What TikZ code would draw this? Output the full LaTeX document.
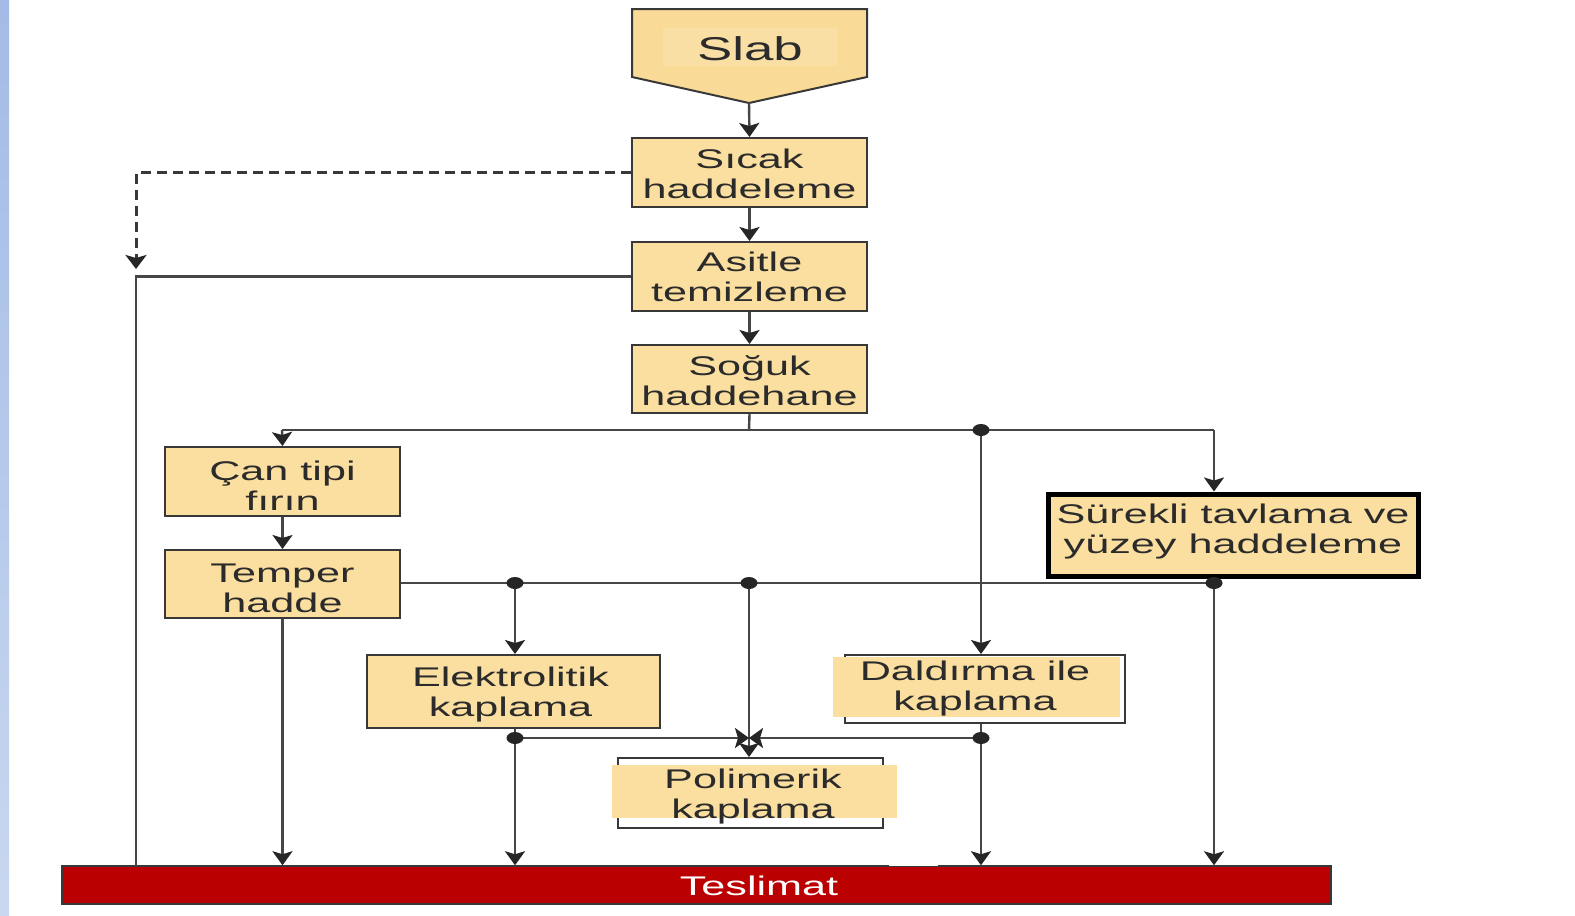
\documentclass[tikz,border=0pt]{standalone}
\usepackage{fontspec}
\setmainfont{Liberation Sans}
\newfontfamily\boxfont[FakeStretch=1.6]{Liberation Sans}
\usetikzlibrary{arrows.meta}
\definecolor{boxfill}{HTML}{FBDFA0}
\definecolor{slabfill}{HTML}{F9DA96}
\definecolor{slabin}{HTML}{FADFA4}
\definecolor{edge}{HTML}{383838}
\definecolor{wire}{HTML}{464646}
\definecolor{tipcol}{HTML}{262626}
\definecolor{txt}{HTML}{2B2B2B}
\definecolor{tesred}{HTML}{BA0000}
\definecolor{bluetop}{HTML}{A3BBE6}
\definecolor{bluebot}{HTML}{C9D7F0}
\tikzset{
  pbox/.style={draw=edge, fill=boxfill, line width=2pt, inner sep=0pt},
  plain/.style={inner sep=0pt, align=center, text=txt, font=\boxfont\fontsize{27pt}{30pt}\selectfont},
  wireline/.style={draw=wire, line width=2.4pt},
  arr/.style={wireline, -{Stealth[length=14pt,width=20pt,inset=3pt,color=tipcol]}},
  darr/.style={draw=edge, line width=3pt, dash pattern=on 10pt off 6pt, -{Stealth[length=14pt,width=21pt,inset=3pt,color=tipcol]}},
  jdot/.style={fill=black!85, draw=none}
}
\begin{document}
\begin{tikzpicture}[x=1pt,y=-1pt]
\useasboundingbox (0,0) rectangle (1575,916);
\fill[white] (0,0) rectangle (1575,916);
\shade[top color=bluetop, bottom color=bluebot] (0,0) rectangle (9,916);

% Slab
\draw[draw=edge, fill=slabfill, line width=2pt] (632,9) -- (867,9) -- (867,77) -- (749,103) -- (632,77) -- cycle;
\fill[slabin] (663,28) rectangle (838,66);
\node[inner sep=0pt, text=txt, font=\boxfont\fontsize{33pt}{36pt}\selectfont] (slab) at (750,49) {Slab};
\coordinate (slabtip) at (749,103);

% Boxes
\node[pbox, minimum width=235pt, minimum height=69pt] (sic) at (749.5,172.5) {};
\node[plain] (sictxt) at ([yshift=-1pt]sic.center) {Sıcak\\haddeleme};
\node[pbox, minimum width=235pt, minimum height=69pt] (asi) at (749.5,276.5) {};
\node[plain] (asitxt) at (asi.center) {Asitle\\temizleme};
\node[pbox, minimum width=235pt, minimum height=68pt] (sog) at (749.5,379) {};
\node[plain] (sogtxt) at ([yshift=-2pt]sog.center) {Soğuk\\haddehane};
\node[pbox, minimum width=235pt, minimum height=69pt] (can) at (282.5,481.5) {};
\node[plain] (cantxt) at ([yshift=-4pt]can.center) {Çan tipi\\fırın};
\node[pbox, minimum width=235pt, minimum height=68pt] (tem) at (282.5,584) {};
\node[plain] (temtxt) at ([yshift=-4pt]tem.center) {Temper\\hadde};
\node[pbox, draw=black, line width=5pt, minimum width=370pt, minimum height=82pt] (sur) at (1233,535) {};
\node[plain] (surtxt) at ([yshift=3pt]sur.center) {Sürekli tavlama ve\\yüzey haddeleme};
\node[pbox, minimum width=293pt, minimum height=73pt] (ele) at (513.5,691.5) {};
\node[plain] (eletxt) at ([xshift=-3pt,yshift=-3pt]ele.center) {Elektrolitik\\kaplama};

% Daldirma (offset fill)
\node[draw=edge, line width=2pt, inner sep=0pt, minimum width=280pt, minimum height=68pt] (dal) at (985,689) {};
\fill[boxfill] (833,657) rectangle (1120,717);
\node[plain] (daltxt) at (975,689) {Daldırma ile\\kaplama};

% Polimerik (offset fill)
\node[draw=edge, line width=2pt, inner sep=0pt, minimum width=265pt, minimum height=70pt] (pol) at (750.5,793) {};
\fill[boxfill] (612,765) rectangle (897,818);
\node[plain] (poltxt) at (753,797) {Polimerik\\kaplama};

% Teslimat
\node[draw=edge, fill=tesred, line width=1.5pt, inner sep=0pt, minimum width=1269pt, minimum height=38pt] (tes) at (696.5,885) {};
\fill[white] (889,860) rectangle (938,866);
\node[inner sep=0pt, text=white, font=\boxfont\fontsize{27pt}{30pt}\selectfont] (testxt) at (759,886) {Teslimat};

% Coordinates
\coordinate (sogb) at (749,430);
\coordinate (jl) at (282,430);
\coordinate (jd) at (981,430);
\coordinate (jr) at (1214,430);
\coordinate (t515) at (515,583);
\coordinate (t749) at (749,583);
\coordinate (t1214) at (1214,583);
\coordinate (e738) at (515,738);
\coordinate (d738) at (981,738);
\coordinate (m738l) at (749,738);
\coordinate (dashend) at (136,269);
\coordinate (leftbot) at (136,866);

% main chain
\draw[arr] (slabtip) -- (sic.north);
\draw[arr] (sic.south) -- (asi.north);
\draw[arr] (asi.south) -- (sog.north);

% dashed bypass
\draw[darr] (sic.west) -| (dashend);
\draw[wireline] (asi.west) -| (leftbot);

% from Soguk
\draw[wireline] (sog.south) -- (sogb);
\draw[wireline] (jl) -- (jr);
\draw[arr] (jl) -- (can.north);
\draw[arr] (jd) -- (jd |- dal.north);
\draw[arr] (jr) -- (jr |- sur.north);
\fill[jdot] (jd) ellipse (8.5pt and 6pt);

% Can -> Temper
\draw[arr] (can.south) -- (tem.north);

% Temper line
\draw[wireline] (tem.east |- t1214) -- (t1214);
\draw[arr] (t515) -- (t515 |- ele.north);
\draw[arr] (t749) -- (t749 |- pol.north);
\fill[jdot] (t515) ellipse (8.5pt and 6pt);
\fill[jdot] (t749) ellipse (8.5pt and 6pt);

% down to Teslimat
\draw[arr] (tem.south) -- (tem.south |- tes.north);
\draw[arr] (t515 |- ele.south) -- (t515 |- tes.north);
\draw[arr] (jd |- dal.south) -- (jd |- tes.north);
\draw[arr] (jr |- sur.south) -- (jr |- tes.north);
\fill[jdot] (t1214) ellipse (8.5pt and 6pt);

% to Polimerik junction
\draw[arr] (e738) -- (m738l);
\draw[arr] (d738) -- (m738l);
\fill[jdot] (e738) ellipse (8.5pt and 6pt);
\fill[jdot] (d738) ellipse (8.5pt and 6pt);
\end{tikzpicture}
\end{document}
